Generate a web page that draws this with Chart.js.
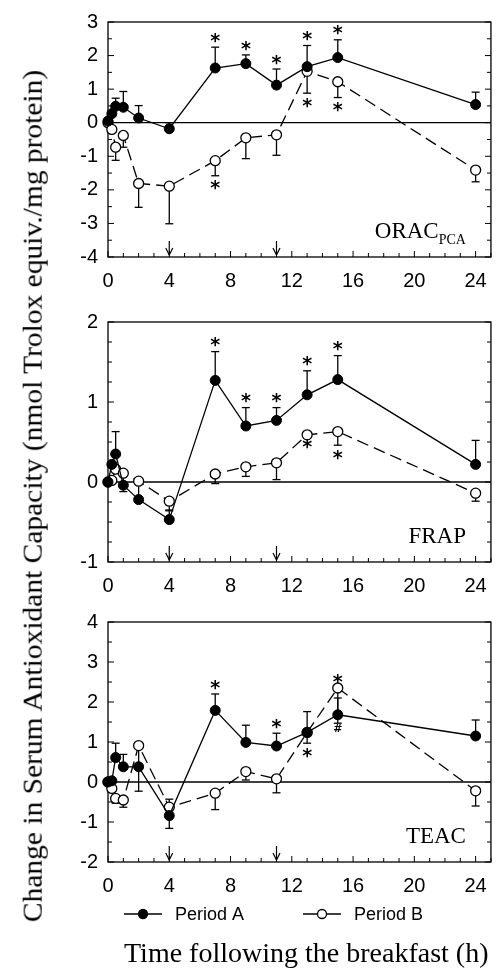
<!DOCTYPE html>
<html>
<head>
<meta charset="utf-8">
<script src="https://cdn.jsdelivr.net/npm/chart.js@4.4.1/dist/chart.umd.min.js"></script>
<style>
  body { margin: 0; background: #fff; width: 499px; height: 975px; overflow: hidden; position: relative; }
  canvas { position: absolute; left: 0; }
  .title { position: absolute; font-family: "Liberation Serif", serif; color: #000; white-space: pre; line-height: 1; }
  #ytitle { font-size: 28px; }
  #xtitle { font-size: 28px; }
</style>
</head>
<body>
<canvas id="orac" width="499" height="300" style="top:0"></canvas>
<canvas id="frap" width="499" height="300" style="top:300px"></canvas>
<canvas id="teac" width="499" height="375" style="top:600px"></canvas>
<div id="ytitle" class="title">Change in Serum Antioxidant Capacity (nmol Trolox equiv./mg protein)</div>
<div id="xtitle" class="title">Time following the breakfast (h)</div>
<script>
// sampling times and axis ticks
const hours = [0, 0.25, 0.5, 1, 2, 4, 7, 9, 11, 13, 15, 24];
const xTicks = [0, 4, 8, 12, 16, 20, 24];
const arrowHours = [4, 11];
const seriesNames = ['Period A', 'Period B'];

// ORAC (PCA) panel; errors are signed (+ drawn up, - drawn down)
const oracTicks = [-4, -3, -2, -1, 0, 1, 2, 3];
const oracA = [0.05, 0.27, 0.49, 0.46, 0.14, -0.18, 1.63, 1.76, 1.12, 1.67, 1.94, 0.54];
const oracAErr = [null, null, 0.24, 0.47, 0.37, 0.18, 0.62, 0.26, 0.48, 0.63, 0.53, 0.37];
const oracB = [0, -0.20, -0.73, -0.38, -1.81, -1.89, -1.13, -0.45, -0.36, 1.53, 1.22, -1.41];
const oracBErr = [null, null, -0.39, -0.35, -0.71, -1.12, -0.45, -0.62, -0.61, -0.65, -0.47, -0.35];
const oracStarsAbove = [7, 9, 11, 13, 15];
const oracStarsBelow = [7, 13, 15];

// FRAP panel
const frapTicks = [-1, 0, 1, 2];
const frapA = [0, 0.22, 0.35, -0.04, -0.22, -0.47, 1.27, 0.70, 0.77, 1.09, 1.28, 0.22];
const frapAErr = [null, null, 0.28, null, 0.2, 0.12, 0.36, 0.23, 0.16, 0.30, 0.30, 0.30];
const frapB = [0, 0.02, 0.16, 0.11, 0.01, -0.24, 0.10, 0.19, 0.24, 0.59, 0.63, -0.14];
const frapBErr = [null, null, null, -0.23, null, -0.12, -0.12, -0.12, -0.21, null, -0.17, -0.10];
const frapStarsAbove = [7, 9, 11, 13, 15];
const frapStarsBelow = [13, 15];

// TEAC panel
const teacTicks = [-2, -1, 0, 1, 2, 3, 4];
const teacA = [0, 0.03, 0.61, 0.38, 0.38, -0.84, 1.79, 0.99, 0.90, 1.24, 1.68, 1.15];
const teacAErr = [null, null, 0.36, 0.31, null, -0.32, 0.41, 0.43, 0.32, 0.52, 0.42, 0.40];
const teacB = [0, -0.16, -0.41, -0.45, 0.91, -0.63, -0.28, 0.26, 0.08, 1.24, 2.35, -0.22];
const teacBErr = [null, null, -0.12, -0.18, -1.14, 0.2, -0.41, -0.21, -0.35, -0.27, -0.88, -0.38];
const teacStarsAbove = [7, 11, 15];
const teacStarsBelow = [13];
const teacHashBelow = [15];

function line(ctx, x1, y1, x2, y2) {
    ctx.beginPath();
    ctx.moveTo(x1, y1);
    ctx.lineTo(x2, y2);
    ctx.stroke();
}

function points(vals, errs) {
    return hours.map((h, i) => ({ x: h, y: vals[i], err: errs[i] }));
}

// frame, ticks, arrows, error bars, significance marks, panel label, legend
const decor = {
    id: 'decor',
    beforeDatasetsDraw(chart, args, opts) {
        const { ctx, chartArea: a, scales: { x, y } } = chart;
        ctx.save();
        ctx.strokeStyle = '#000';
        ctx.lineWidth = 1.3;
        ctx.strokeRect(a.left, a.top, a.right - a.left, a.bottom - a.top);
        const y0 = y.getPixelForValue(0);
        line(ctx, a.left, y0, a.right, y0);

        ctx.lineWidth = 1;
        for (let h = 0; h <= 25; h++) {
            const px = x.getPixelForValue(h);
            line(ctx, px, a.bottom, px, a.bottom - (h % 4 === 0 ? 6 : 4));
        }
        for (let v = y.min; v <= y.max + 1e-6; v += opts.minor) {
            const py = y.getPixelForValue(v);
            const len = Math.abs(v - Math.round(v)) < 1e-6 ? 6 : 4;
            line(ctx, a.left, py, a.left + len, py);
            line(ctx, a.right, py, a.right - len, py);
        }

        // meal arrows
        ctx.lineWidth = 1.2;
        arrowHours.forEach(h => {
            const px = x.getPixelForValue(h);
            line(ctx, px, a.bottom - 16, px, a.bottom - 2);
            ctx.beginPath();
            ctx.moveTo(px - 3.5, a.bottom - 9);
            ctx.lineTo(px, a.bottom - 2);
            ctx.lineTo(px + 3.5, a.bottom - 9);
            ctx.stroke();
        });

        // error bars
        ctx.lineWidth = 1.3;
        chart.data.datasets.forEach(ds => ds.data.forEach(p => {
            if (p.err == null) return;
            const px = x.getPixelForValue(p.x);
            const py = y.getPixelForValue(p.y);
            const pe = y.getPixelForValue(p.y + p.err);
            line(ctx, px, py, px, pe);
            line(ctx, px - 4, pe, px + 4, pe);
        }));
        ctx.restore();
    },
    afterDatasetsDraw(chart, args, opts) {
        const { ctx, chartArea: a, scales: { x, y } } = chart;
        const sets = chart.data.datasets;
        ctx.save();
        ctx.fillStyle = '#000';

        const extent = (h, dir) => {
            const i = hours.indexOf(h);
            let best = dir > 0 ? -Infinity : Infinity;
            sets.forEach(ds => {
                const p = ds.data[i];
                [p.y, p.err == null ? p.y : p.y + p.err].forEach(v => {
                    best = dir > 0 ? Math.max(best, v) : Math.min(best, v);
                });
            });
            return y.getPixelForValue(best);
        };
        const mark = (list, dir, text, size) => {
            ctx.font = 'bold ' + size + 'px "DejaVu Sans"';
            ctx.textAlign = 'center';
            ctx.textBaseline = 'middle';
            (list || []).forEach(h => {
                const py = extent(h, dir) - dir * (size * 0.5);
                ctx.fillText(text, x.getPixelForValue(h), py + (text === '*' ? size * 0.22 : 0));
            });
        };
        mark(opts.above, 1, '*', 19);
        mark(opts.below, -1, '*', 19);
        mark(opts.hashBelow, -1, '#', 11);

        // panel label with optional subscript
        ctx.textBaseline = 'alphabetic';
        ctx.textAlign = 'left';
        ctx.font = '23px "Liberation Serif"';
        const mainW = ctx.measureText(opts.label).width;
        ctx.font = '14px "Liberation Serif"';
        const subW = opts.sub ? ctx.measureText(opts.sub).width : 0;
        const lx = a.right - 25 - mainW - subW;
        const ly = a.bottom - 19;
        ctx.font = '23px "Liberation Serif"';
        ctx.fillText(opts.label, lx, ly);
        if (opts.sub) {
            ctx.font = '14px "Liberation Serif"';
            ctx.fillText(opts.sub, lx + mainW, ly + 6);
        }

        if (opts.legend) {
            const ly2 = a.bottom + 52;
            const slots = [143, 322];
            ctx.font = '18px "Liberation Sans"';
            ctx.textBaseline = 'middle';
            sets.forEach((ds, i) => {
                const cx = slots[i];
                ctx.strokeStyle = '#000';
                ctx.lineWidth = 1.3;
                line(ctx, cx - 19, ly2, cx + 19, ly2);
                ctx.beginPath();
                ctx.arc(cx, ly2, 4.5, 0, Math.PI * 2);
                ctx.fillStyle = ds.pointBackgroundColor;
                ctx.fill();
                ctx.stroke();
                ctx.fillStyle = '#000';
                ctx.fillText(ds.label, cx + 32, ly2 + 1);
            });
        }
        ctx.restore();
    }
};

function makePanel(id, opts) {
    const ctx = document.getElementById(id).getContext('2d');
    return new Chart(ctx, {
        type: 'line',
        data: {
            datasets: [
                {
                    label: seriesNames[0],
                    data: points(opts.a, opts.aErr),
                    borderColor: '#000',
                    borderWidth: 1.3,
                    pointRadius: 5,
                    pointBackgroundColor: '#000',
                    pointBorderColor: '#000',
                    pointBorderWidth: 1,
                    clip: false
                },
                {
                    label: seriesNames[1],
                    data: points(opts.b, opts.bErr),
                    borderColor: '#000',
                    borderWidth: 1.3,
                    borderDash: [12, 6],
                    pointRadius: 5,
                    pointBackgroundColor: '#fff',
                    pointBorderColor: '#000',
                    pointBorderWidth: 1.3,
                    clip: false
                }
            ]
        },
        options: {
            responsive: false,
            animation: false,
            devicePixelRatio: 1,
            layout: { padding: { top: opts.padTop, right: 4, left: 0, bottom: 0 } },
            scales: {
                x: {
                    type: 'linear',
                    min: 0,
                    max: 25,
                    grid: { display: false, drawTicks: false },
                    border: { display: false },
                    ticks: { color: '#000', font: { family: 'Liberation Sans', size: 20 }, padding: 12, maxRotation: 0 },
                    afterBuildTicks: s => { s.ticks = xTicks.map(v => ({ value: v })); },
                    afterFit: s => { s.height = opts.xHeight; }
                },
                y: {
                    min: opts.ticks[0],
                    max: opts.ticks[opts.ticks.length - 1],
                    grid: { display: false, drawTicks: false },
                    border: { display: false },
                    ticks: { color: '#000', font: { family: 'Liberation Sans', size: 20 }, padding: 10 },
                    afterBuildTicks: s => { s.ticks = opts.ticks.map(v => ({ value: v })); },
                    afterFit: s => { s.width = 108; }
                }
            },
            plugins: {
                legend: { display: false },
                tooltip: { enabled: false },
                decor: {
                    minor: opts.minor,
                    above: opts.above,
                    below: opts.below,
                    hashBelow: opts.hashBelow,
                    label: opts.label,
                    sub: opts.sub,
                    legend: opts.legend
                }
            }
        },
        plugins: [decor]
    });
}

document.addEventListener('DOMContentLoaded', function() {
    makePanel('orac', {
        a: oracA, aErr: oracAErr, b: oracB, bErr: oracBErr, ticks: oracTicks, minor: 0.5,
        above: oracStarsAbove, below: oracStarsBelow, label: 'ORAC', sub: 'PCA',
        padTop: 15, xHeight: 43
    });
    makePanel('frap', {
        a: frapA, aErr: frapAErr, b: frapB, bErr: frapBErr, ticks: frapTicks, minor: 0.25,
        above: frapStarsAbove, below: frapStarsBelow, label: 'FRAP',
        padTop: 20, xHeight: 38
    });
    makePanel('teac', {
        a: teacA, aErr: teacAErr, b: teacB, bErr: teacBErr, ticks: teacTicks, minor: 0.5,
        above: teacStarsAbove, below: teacStarsBelow, hashBelow: teacHashBelow, label: 'TEAC',
        padTop: 22, xHeight: 113, legend: true
    });

    // axis titles: y title is stretched to the span of the original
    const yt = document.getElementById('ytitle');
    const yw = yt.offsetWidth, yh = yt.offsetHeight;
    yt.style.left = (32 - yw / 2) + 'px';
    yt.style.top = (496 - yh / 2) + 'px';
    yt.style.transform = 'rotate(-90deg) scaleX(' + (852 / yw) + ')';

    const xt = document.getElementById('xtitle');
    xt.style.left = (306 - xt.offsetWidth / 2) + 'px';
    xt.style.top = (953 - xt.offsetHeight / 2) + 'px';
});
</script>
</body>
</html>
